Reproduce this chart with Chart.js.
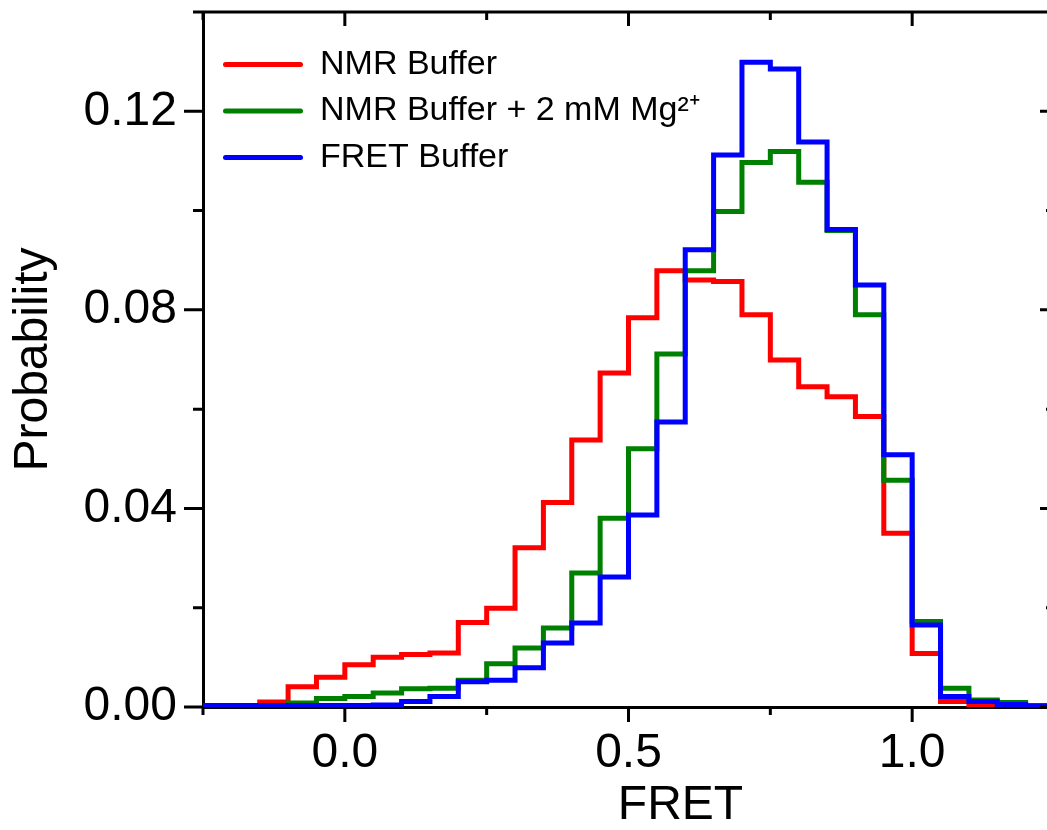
<!DOCTYPE html>
<html>
<head>
<meta charset="utf-8">
<script src="https://cdn.jsdelivr.net/npm/chart.js@4.4.1/dist/chart.umd.min.js"></script>
<style>
  html, body { margin: 0; padding: 0; overflow: hidden; background: #ffffff; }
  #wrap { width: 1060px; height: 830px; }
</style>
</head>
<body>
<div id="wrap"><canvas id="c" width="1060" height="830"></canvas></div>
<script>
// ---- data (histogram bins of width 0.05, left edges) ----
const binStarts = [-0.25, -0.20, -0.15, -0.10, -0.05, 0.00, 0.05, 0.10, 0.15, 0.20,
                    0.25,  0.30,  0.35,  0.40,  0.45, 0.50, 0.55, 0.60, 0.65, 0.70,
                    0.75,  0.80,  0.85,  0.90,  0.95, 1.00, 1.05, 1.10, 1.15, 1.20];
const binWidth = 0.05;

const nmrBuffer = [0.0001, 0.0003, 0.0010, 0.0041, 0.0060, 0.0085, 0.0100, 0.0106, 0.0109, 0.0170,
                   0.0199, 0.0321, 0.0412, 0.0538, 0.0673, 0.0784, 0.0879, 0.0860, 0.0857, 0.0790,
                   0.0699, 0.0645, 0.0625, 0.0585, 0.0350, 0.0108, 0.0011, 0.0004, 0.0001, 0.0000];

const nmrBufferMg = [0.0001, 0.0002, 0.0003, 0.0008, 0.0017, 0.0021, 0.0028, 0.0037, 0.0038, 0.0054,
                     0.0087, 0.0119, 0.0159, 0.0270, 0.0380, 0.0520, 0.0711, 0.0879, 0.0998, 0.1097,
                     0.1119, 0.1057, 0.0960, 0.0790, 0.0457, 0.0172, 0.0038, 0.0014, 0.0009, 0.0003];

const fretBuffer = [0.0003, 0.0003, 0.0003, 0.0003, 0.0003, 0.0003, 0.0004, 0.0011, 0.0021, 0.0051,
                    0.0054, 0.0079, 0.0129, 0.0169, 0.0262, 0.0387, 0.0574, 0.0921, 0.1112, 0.1299,
                    0.1285, 0.1138, 0.0962, 0.0850, 0.0508, 0.0165, 0.0021, 0.0011, 0.0005, 0.0002];

const seriesLabels = ['NMR Buffer', 'NMR Buffer + 2 mM Mg\u00B2\u207A', 'FRET Buffer'];
const seriesColors = ['#ff0000', '#008000', '#0000ff'];

const xTickValues = [0.0, 0.5, 1.0];
const xTickLabels = ['0.0', '0.5', '1.0'];
const xMinorTickValues = [-0.25, 0.25, 0.75, 1.25];
const yTickValues = [0.00, 0.04, 0.08, 0.12];
const yTickLabels = ['0.00', '0.04', '0.08', '0.12'];
const yMinorTickValues = [0.02, 0.06, 0.10, 0.14];
const xAxisTitle = 'FRET';
const yAxisTitle = 'Probability';

// ---- helpers ----
function toSteps(values) {
  const pts = values.map((v, i) => ({ x: binStarts[i], y: v }));
  const last = values.length - 1;
  pts.push({ x: binStarts[last] + binWidth, y: values[last] });
  return pts;
}

const FONT = '"Liberation Sans", Arial, Helvetica, sans-serif';
Chart.defaults.font.family = FONT;
Chart.defaults.color = '#000000';

const frameAndTicks = {
  id: 'frameAndTicks',
  beforeDraw(chart) {
    const a = chart.chartArea;
    const lg = chart.legend;
    if (lg) {
      lg.left = a.left + 7.5;
      lg.top = a.top + 23;
      lg.right = a.right;
      lg.bottom = a.bottom;
    }
  },
  afterDraw(chart) {
    const { ctx, chartArea: a, scales } = chart;
    const x = scales.x, y = scales.y;
    ctx.save();
    ctx.strokeStyle = '#000000';
    ctx.lineWidth = 3;
    ctx.lineCap = 'butt';
    ctx.beginPath();
    ctx.moveTo(a.left - 1.5, a.top);
    ctx.lineTo(a.right + 1.5, a.top);
    ctx.moveTo(a.right, a.top);
    ctx.lineTo(a.right, a.bottom);
    const seg = (x1, y1, x2, y2) => { ctx.moveTo(x1, y1); ctx.lineTo(x2, y2); };
    xTickValues.forEach(v => {
      const px = x.getPixelForValue(v);
      seg(px, a.bottom, px, a.bottom + 15);
      seg(px, a.top, px, a.top + 14);
    });
    xMinorTickValues.forEach(v => {
      const px = x.getPixelForValue(v);
      seg(px, a.bottom, px, a.bottom + 8);
      seg(px, a.top, px, a.top + 8);
    });
    yTickValues.forEach(v => {
      const py = y.getPixelForValue(v);
      seg(a.left, py, a.left - 19, py);
      seg(a.right, py, a.right - 14, py);
    });
    yMinorTickValues.forEach(v => {
      const py = y.getPixelForValue(v);
      seg(a.left, py, a.left - 10, py);
      seg(a.right, py, a.right - 8, py);
    });
    ctx.stroke();
    // x axis title
    ctx.fillStyle = '#000000';
    ctx.font = '48px ' + FONT;
    ctx.textAlign = 'center';
    ctx.textBaseline = 'middle';
    ctx.fillText(xAxisTitle, (a.left + a.right) / 2 + 52, x.bottom - 24);
    ctx.restore();
  }
};

const datasets = [nmrBuffer, nmrBufferMg, fretBuffer].map((vals, i) => ({
  label: seriesLabels[i],
  data: toSteps(vals),
  borderColor: seriesColors[i],
  backgroundColor: seriesColors[i],
  borderWidth: 5,
  stepped: 'before',
  pointRadius: 0,
  pointHoverRadius: 0,
  fill: false,
  borderJoinStyle: 'miter',
  borderCapStyle: 'butt',
  order: 3 - i
}));

new Chart(document.getElementById('c'), {
  type: 'line',
  data: { datasets },
  plugins: [frameAndTicks],
  options: {
    responsive: false,
    animation: false,
    devicePixelRatio: 1,
    layout: { padding: { top: 12, right: 6, left: 0, bottom: 0 } },
    plugins: {
      tooltip: { enabled: false },
      legend: {
        position: 'chartArea',
        align: 'start',
        labels: {
          boxWidth: 80,
          boxHeight: 5,
          padding: 12.5,
          color: '#000000',
          font: { size: 34, family: FONT },
          generateLabels: (chart) => chart.data.datasets.map((ds, i) => ({
            text: ds.label,
            fillStyle: ds.borderColor,
            strokeStyle: ds.borderColor,
            lineWidth: 0,
            borderRadius: 2.5,
            hidden: false,
            datasetIndex: i,
            fontColor: '#000000'
          }))
        }
      }
    },
    scales: {
      x: {
        type: 'linear',
        min: -0.25,
        max: 1.25,
        afterBuildTicks: (s) => { s.ticks = xTickValues.map(v => ({ value: v })); },
        afterFit: (s) => { s.height = 123; s.paddingLeft = 0; s.paddingRight = 0; },
        ticks: {
          callback: (v, i) => xTickLabels[i],
          font: { size: 48, lineHeight: 1 },
          padding: 23,
          maxRotation: 0,
          autoSkip: false,
          color: '#000000'
        },
        grid: { display: true, drawOnChartArea: false, drawTicks: false },
        border: { display: true, color: '#000000', width: 3 },
        title: { display: false }
      },
      y: {
        type: 'linear',
        min: 0,
        max: 0.14,
        afterBuildTicks: (s) => { s.ticks = yTickValues.map(v => ({ value: v })); },
        afterFit: (s) => { s.width = 203; s.paddingTop = 0; s.paddingBottom = 0; },
        ticks: {
          callback: (v, i) => yTickLabels[i],
          font: { size: 48, lineHeight: 1 },
          padding: 26,
          autoSkip: false,
          color: '#000000'
        },
        grid: { display: true, drawOnChartArea: false, drawTicks: false },
        border: { display: true, color: '#000000', width: 3 },
        title: {
          display: true,
          text: yAxisTitle,
          color: '#000000',
          font: { size: 48, lineHeight: 1 },
          padding: { top: 10, bottom: 0 }
        }
      }
    }
  }
});
</script>
</body>
</html>
